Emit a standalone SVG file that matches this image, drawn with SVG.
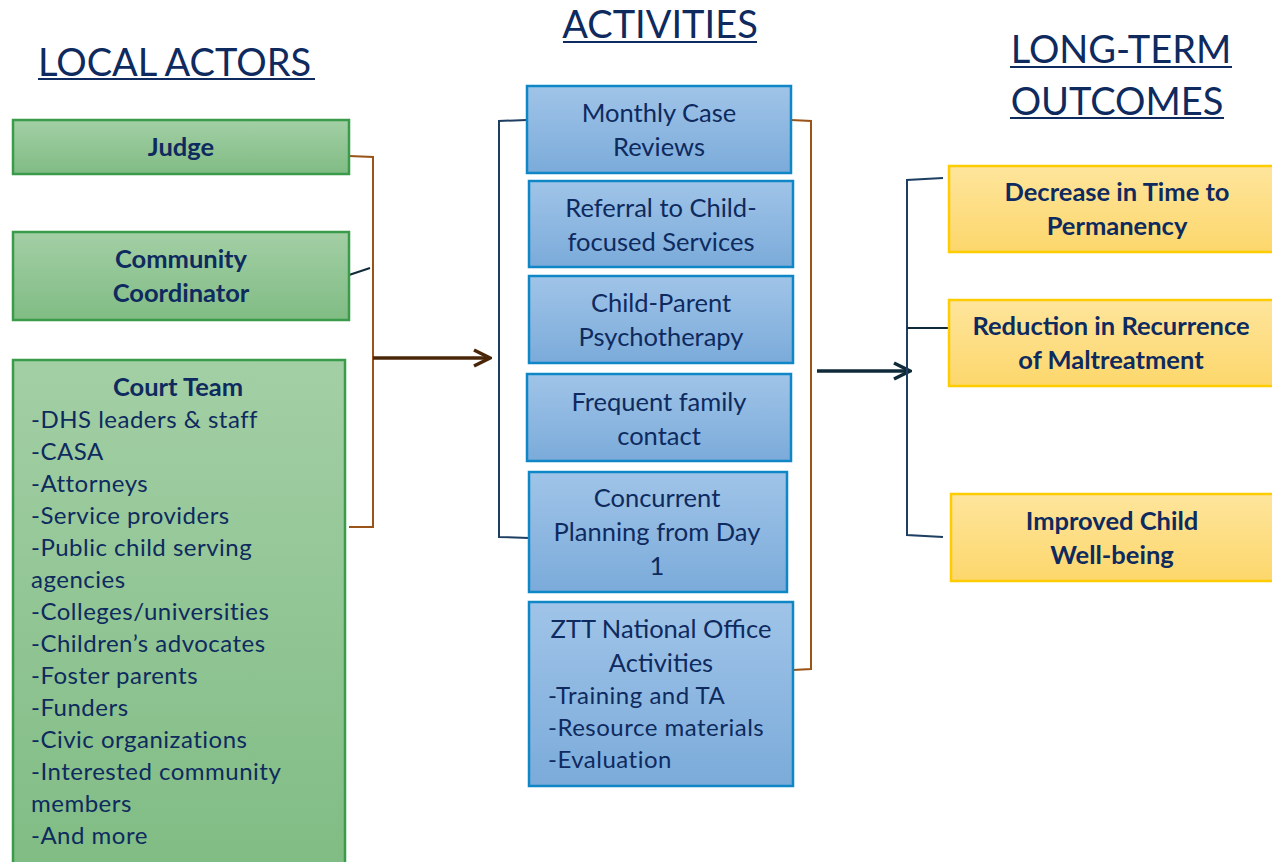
<svg xmlns="http://www.w3.org/2000/svg" width="1272" height="862" viewBox="0 0 1272 862">
<defs>
<linearGradient id="gG" x1="0" y1="0" x2="0" y2="1"><stop offset="0" stop-color="#A3CFA5"/><stop offset="1" stop-color="#80BC84"/></linearGradient>
<linearGradient id="gB" x1="0" y1="0" x2="0" y2="1"><stop offset="0" stop-color="#A0C4E8"/><stop offset="1" stop-color="#7BABDA"/></linearGradient>
<linearGradient id="gY" x1="0" y1="0" x2="0" y2="1"><stop offset="0" stop-color="#FEE59C"/><stop offset="1" stop-color="#FDD76C"/></linearGradient>
<marker id="ahB" viewBox="0 0 20 20" refX="18" refY="10" markerWidth="20" markerHeight="20" markerUnits="userSpaceOnUse" orient="auto"><path d="M2,2 L18,10 L2,18" fill="none" stroke="#4A2608" stroke-width="3.5"/></marker>
<marker id="ahD" viewBox="0 0 20 20" refX="18" refY="10" markerWidth="20" markerHeight="20" markerUnits="userSpaceOnUse" orient="auto"><path d="M2,2 L18,10 L2,18" fill="none" stroke="#0F2A38" stroke-width="3.5"/></marker>
</defs>
<style>
text{font-family:Lato,"Open Sans","Liberation Sans",sans-serif;fill:#0E2A5E}
.title{font-size:38px}
.b{font-weight:bold;font-size:25.5px}
.r{font-size:25.5px}
.l{font-size:24px;letter-spacing:0.5px}
.c{text-anchor:middle}
.green{fill:url(#gG);stroke:#3A9C4A;stroke-width:2.5}
.blue{fill:url(#gB);stroke:#0F86C6;stroke-width:2.5}
.yel{fill:url(#gY);stroke:#FFCC00;stroke-width:2.5}
.ul{stroke:#0E2A5E;stroke-width:2}
</style>

<g id="titles">
<text class="title" x="38" y="76">LOCAL  ACTORS</text><line class="ul" x1="38" y1="79" x2="315" y2="79"/>
<text class="title c" x="660" y="38">ACTIVITIES</text><line class="ul" x1="563" y1="42" x2="757" y2="42"/>
<text class="title c" x="1121" y="63">LONG-TERM</text><line class="ul" x1="1010" y1="67" x2="1232" y2="67"/>
<text class="title c" x="1117" y="115">OUTCOMES</text><line class="ul" x1="1010" y1="118" x2="1224" y2="118"/>
</g>

<g id="connectors" fill="none">
<path d="M349,156 L373,157 L373,527 L349,527" stroke="#9B5418" stroke-width="2"/>
<line x1="349" y1="275" x2="370" y2="268" stroke="#0F2A38" stroke-width="2"/>
<line x1="373" y1="358" x2="490" y2="358" stroke="#4A2608" stroke-width="3.5" marker-end="url(#ahB)"/>
<path d="M527,120 L499,121 L499,537 L529,538" stroke="#1F3F62" stroke-width="2"/>
<path d="M791,120 L811,121 L811,669 L793,670" stroke="#9B5418" stroke-width="2"/>
<line x1="817" y1="371" x2="910" y2="371" stroke="#0F2A38" stroke-width="3.5" marker-end="url(#ahD)"/>
<path d="M943,178 L907,180 L907,535 L943,537" stroke="#1F3F62" stroke-width="2"/>
<line x1="907" y1="328" x2="949" y2="328" stroke="#0F2A38" stroke-width="2"/>
</g>

<g id="judge"><rect class="green" x="13" y="120" width="336" height="54"/><text class="b c" x="181" y="156">Judge</text></g>
<g id="community"><rect class="green" x="13" y="232" width="336" height="88"/><text class="b c" x="181" y="268">Community</text><text class="b c" x="181" y="302">Coordinator</text></g>
<g id="courtteam"><rect class="green" x="13" y="360" width="332" height="510"/>
<text class="b c" x="178" y="396">Court Team</text>
<text class="l" x="31" y="428">-DHS leaders &amp; staff</text>
<text class="l" x="31" y="460">-CASA</text>
<text class="l" x="31" y="492">-Attorneys</text>
<text class="l" x="31" y="524">-Service providers</text>
<text class="l" x="31" y="556">-Public child serving</text>
<text class="l" x="31" y="588">agencies</text>
<text class="l" x="31" y="620">-Colleges/universities</text>
<text class="l" x="31" y="652">-Children’s advocates</text>
<text class="l" x="31" y="684">-Foster parents</text>
<text class="l" x="31" y="716">-Funders</text>
<text class="l" x="31" y="748">-Civic organizations</text>
<text class="l" x="31" y="780">-Interested community</text>
<text class="l" x="31" y="812">members</text>
<text class="l" x="31" y="844">-And more</text>
</g>

<g id="monthly"><rect class="blue" x="527" y="86" width="264" height="87"/><text class="r c" x="659" y="122">Monthly Case</text><text class="r c" x="659" y="156">Reviews</text></g>
<g id="referral"><rect class="blue" x="529" y="181" width="264" height="86"/><text class="r c" x="661" y="217">Referral to Child-</text><text class="r c" x="661" y="251">focused  Services</text></g>
<g id="cpp"><rect class="blue" x="529" y="276" width="264" height="87"/><text class="r c" x="661" y="312">Child-Parent</text><text class="r c" x="661" y="346">Psychotherapy</text></g>
<g id="family"><rect class="blue" x="527" y="374" width="264" height="87"/><text class="r c" x="659" y="411">Frequent family</text><text class="r c" x="659" y="445">contact</text></g>
<g id="concurrent"><rect class="blue" x="529" y="472" width="258" height="120"/><text class="r c" x="657" y="507">Concurrent</text><text class="r c" x="657" y="541">Planning  from  Day</text><text class="r c" x="657" y="575">1</text></g>
<g id="ztt"><rect class="blue" x="529" y="602" width="264" height="184"/><text class="r c" x="661" y="638">ZTT National Office</text><text class="r c" x="661" y="672">Activities</text>
<text class="l" x="548" y="704">-Training and TA</text><text class="l" x="548" y="736">-Resource materials</text><text class="l" x="548" y="768">-Evaluation</text></g>

<g id="decrease"><rect class="yel" x="949" y="166" width="330" height="86"/><text class="b c" x="1117" y="201">Decrease in Time to</text><text class="b c" x="1117" y="235">Permanency</text></g>
<g id="reduction"><rect class="yel" x="949" y="300" width="330" height="86"/><text class="b c" x="1111" y="335">Reduction in Recurrence</text><text class="b c" x="1111" y="369">of Maltreatment</text></g>
<g id="improved"><rect class="yel" x="951" y="494" width="330" height="87"/><text class="b c" x="1112" y="530">Improved Child</text><text class="b c" x="1112" y="564">Well-being</text></g>
</svg>
